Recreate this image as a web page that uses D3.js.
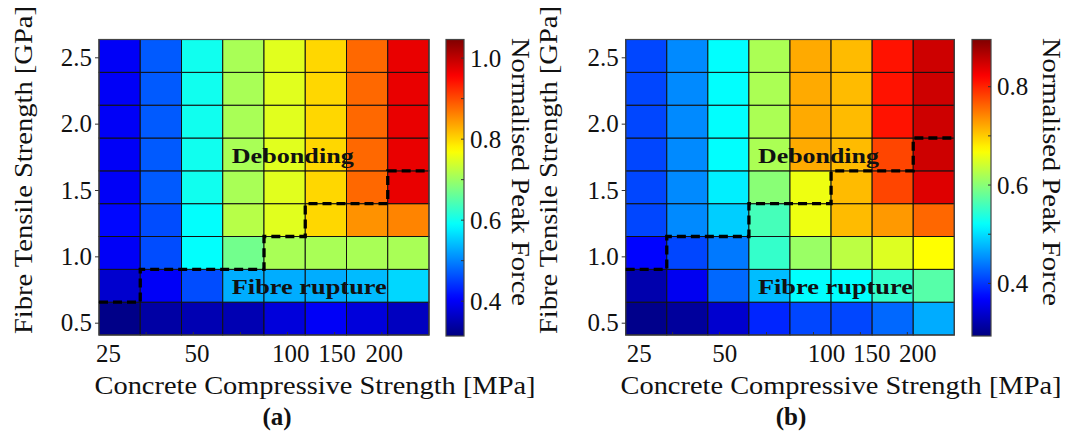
<!DOCTYPE html>
<html><head><meta charset="utf-8">
<script src="https://cdn.jsdelivr.net/npm/d3@7"></script>
<style>
body{margin:0;background:#fff;}
text{font-family:"Liberation Serif","DejaVu Serif",serif;fill:#111;}
</style></head>
<body><svg id="chart" width="1072" height="434"></svg>
<script>
// ---- data ----
const concreteColumns = [0,1,2,3,4,5,6,7];
const fibreStrength = [0.5,0.75,1.0,1.25,1.5,1.75,2.0,2.25,2.5]; // GPa, bottom to top
const fibreTicks = [0.5,1.0,1.5,2.0,2.5];
const concreteTickLabels = ["25","50","100","150","200"];
const concreteTickPosA = [0.2,2.08,4.07,5.05,6.05];   // in tick units (0..7)
const concreteTickPosB = [0.29,2.11,4.28,5.24,6.22];
const minorTickUnits = [1,2,3,4,5,6];
// Normalised peak force, rows from fibre 0.5 (bottom) to 2.5 (top)
const peakForceA = [
  [0.32,0.34,0.35,0.35,0.38,0.40,0.38,0.36],
  [0.37,0.40,0.46,0.53,0.53,0.53,0.54,0.56],
  [0.40,0.46,0.59,0.67,0.71,0.71,0.71,0.71],
  [0.41,0.46,0.59,0.72,0.75,0.80,0.85,0.86],
  [0.40,0.47,0.60,0.71,0.75,0.80,0.88,0.97],
  [0.40,0.47,0.60,0.71,0.75,0.80,0.88,0.97],
  [0.40,0.47,0.60,0.71,0.75,0.80,0.88,0.97],
  [0.40,0.47,0.60,0.71,0.75,0.80,0.88,0.97],
  [0.40,0.47,0.60,0.71,0.75,0.80,0.88,0.97]
];
const peakForceB = [
  [0.30,0.31,0.34,0.39,0.41,0.41,0.43,0.47],
  [0.32,0.36,0.43,0.48,0.52,0.52,0.55,0.57],
  [0.37,0.41,0.44,0.55,0.61,0.63,0.65,0.67],
  [0.41,0.45,0.49,0.56,0.66,0.71,0.73,0.76],
  [0.41,0.45,0.51,0.60,0.66,0.71,0.78,0.84],
  [0.41,0.45,0.52,0.62,0.72,0.71,0.78,0.85],
  [0.41,0.45,0.52,0.62,0.72,0.71,0.81,0.85],
  [0.41,0.45,0.52,0.62,0.72,0.71,0.81,0.85],
  [0.41,0.45,0.52,0.62,0.72,0.71,0.81,0.85]
];
// number of fibre levels (from bottom) in the fibre-rupture region, per column
const ruptureRowsA = [1,2,2,2,3,4,4,5];
const ruptureRowsB = [2,3,3,4,4,5,5,6];
const colorDomainA = [0.314,1.046];
const colorDomainB = [0.293,0.896];
const cbarTicksA = [0.4,0.5,0.6,0.7,0.8,0.9,1.0];
const cbarLabelsA = [0.4,0.6,0.8,1.0];
const cbarTicksB = [0.4,0.5,0.6,0.7,0.8];
const cbarLabelsB = [0.4,0.6,0.8];

function clamp(v){return Math.max(0,Math.min(1,v));}
function jet(t){
  const r=clamp(Math.min(4*t-1.5,-4*t+4.5));
  const g=clamp(Math.min(4*t-0.5,-4*t+3.5));
  const b=clamp(Math.min(4*t+0.5,-4*t+2.5));
  return d3.rgb(r*255,g*255,b*255).toString();
}

const svg = d3.select("#chart");

function panel(cfg){
  const g = svg.append("g");
  const x = d3.scaleBand().domain(concreteColumns).range([cfg.left,cfg.right]).padding(0);
  const xTick = d3.scaleLinear().domain([0,7]).range([cfg.left,cfg.right]);
  const y = d3.scaleBand().domain(fibreStrength).range([cfg.bottom,cfg.top]).padding(0);
  const yAxis = d3.scaleLinear().domain([0.5,2.5]).range([322.7,57.3]);
  const cnorm = d3.scaleLinear().domain(cfg.cdomain).range([0,1]).clamp(true);

  const cells=[];
  cfg.data.forEach((row,ri)=>row.forEach((v,ci)=>cells.push({f:fibreStrength[ri],c:concreteColumns[ci],v})));
  g.selectAll("rect.cell").data(cells).join("rect").attr("class","cell")
    .attr("x",d=>x(d.c)).attr("y",d=>y(d.f))
    .attr("width",x.bandwidth()).attr("height",y.bandwidth())
    .attr("fill",d=>jet(cnorm(d.v)))
    .attr("stroke","#111").attr("stroke-width",1);

  g.append("rect").attr("x",cfg.left).attr("y",cfg.top)
    .attr("width",cfg.right-cfg.left).attr("height",cfg.bottom-cfg.top)
    .attr("fill","none").attr("stroke","#444").attr("stroke-width",1.2);

  // y axis
  const ya = g.append("g").attr("transform",`translate(${cfg.left},0)`)
    .call(d3.axisLeft(yAxis).tickValues(fibreTicks).tickFormat(d3.format(".1f")).tickSize(4).tickPadding(3));
  ya.select(".domain").remove();
  ya.selectAll("line").attr("stroke","#333");
  ya.selectAll("text").attr("font-size",25).style("font-family",'"Liberation Serif",serif').attr("fill","#111");

  // x axis minor inward ticks
  g.selectAll("line.xt").data(minorTickUnits).join("line").attr("class","xt")
    .attr("x1",d=>xTick(d)).attr("x2",d=>xTick(d))
    .attr("y1",cfg.bottom).attr("y2",cfg.bottom-3).attr("stroke","#333");
  g.selectAll("text.xl").data(concreteTickLabels).join("text").attr("class","xl")
    .attr("x",(d,i)=>xTick(cfg.tickPos[i])).attr("y",362)
    .attr("text-anchor","middle").attr("font-size",25).text(d=>d);

  // boundary dashed line
  const pts=[];
  concreteColumns.forEach((c,i)=>{
    const yy = y(fibreStrength[cfg.rupture[i]-1]);
    pts.push([x(c),yy]); pts.push([x(c)+x.bandwidth(),yy]);
  });
  g.append("path").attr("d",d3.line()(pts)).attr("fill","none")
    .attr("stroke","#000").attr("stroke-width",3.3).attr("stroke-dasharray","9,5");

  // annotations
  g.append("text").attr("x",x(3)+9).attr("y",yAxis(1.7)).attr("font-size",22).attr("font-weight","bold")
    .attr("textLength",cfg.debW).attr("lengthAdjust","spacingAndGlyphs").text("Debonding");
  g.append("text").attr("x",x(3)+9).attr("y",yAxis(0.72)).attr("font-size",22).attr("font-weight","bold")
    .attr("textLength",155).attr("lengthAdjust","spacingAndGlyphs").text("Fibre rupture");

  // colorbar
  const gid="grad"+cfg.id;
  const grad = svg.append("defs").append("linearGradient").attr("id",gid)
    .attr("x1",0).attr("y1",1).attr("x2",0).attr("y2",0);
  d3.range(0,1.0001,0.02).forEach(t=>grad.append("stop").attr("offset",t).attr("stop-color",jet(t)));
  const cs = d3.scaleLinear().domain(cfg.cdomain).range([cfg.cbBottom,cfg.top]);
  g.append("rect").attr("x",cfg.cbLeft).attr("y",cfg.top).attr("width",cfg.cbW)
    .attr("height",cfg.cbBottom-cfg.top).attr("fill",`url(#${gid})`).attr("stroke","#444").attr("stroke-width",1.2);
  g.selectAll("line.ct").data(cfg.cticks).join("line").attr("class","ct")
    .attr("x1",cfg.cbLeft+cfg.cbW-3).attr("x2",cfg.cbLeft+cfg.cbW)
    .attr("y1",d=>cs(d)).attr("y2",d=>cs(d)).attr("stroke","#333");
  g.selectAll("text.cl").data(cfg.clabels).join("text").attr("class","cl")
    .attr("x",cfg.cbLeft+cfg.cbW+6).attr("y",d=>cs(d)).attr("dy","0.35em")
    .attr("font-size",25).text(d=>d3.format(".1f")(d));

  // titles
  g.append("text").attr("transform",`translate(${cfg.ytX},170) rotate(-90)`)
    .attr("text-anchor","middle").attr("font-size",26)
    .attr("textLength",328).attr("lengthAdjust","spacingAndGlyphs")
    .text("Fibre Tensile Strength [GPa]");
  g.append("text").attr("transform",`translate(${cfg.ctX},172) rotate(90)`)
    .attr("text-anchor","middle").attr("font-size",26)
    .attr("textLength",268).attr("lengthAdjust","spacingAndGlyphs")
    .text("Normalised Peak Force");
  g.append("text").attr("x",cfg.xtX).attr("y",394).attr("text-anchor","middle").attr("font-size",26)
    .attr("textLength",441).attr("lengthAdjust","spacingAndGlyphs")
    .text("Concrete Compressive Strength [MPa]");
  g.append("text").attr("x",cfg.plX).attr("y",425).attr("text-anchor","middle")
    .attr("font-size",25).attr("font-weight","bold").text(cfg.label);
}

panel({id:"a",left:99,right:429,top:39.5,bottom:335,data:peakForceA,rupture:ruptureRowsA,
  cdomain:colorDomainA,cticks:cbarTicksA,clabels:cbarLabelsA,tickPos:concreteTickPosA,
  cbLeft:446,cbW:18,cbBottom:336,ytX:32,ctX:512,xtX:315,plX:277,label:"(a)",debW:122});
panel({id:"b",left:625.7,right:954.3,top:39.5,bottom:335,data:peakForceB,rupture:ruptureRowsB,
  cdomain:colorDomainB,cticks:cbarTicksB,clabels:cbarLabelsB,tickPos:concreteTickPosB,
  cbLeft:972,cbW:19,cbBottom:336,ytX:557,ctX:1043,xtX:841,plX:791,label:"(b)",debW:121});
</script></body></html>
